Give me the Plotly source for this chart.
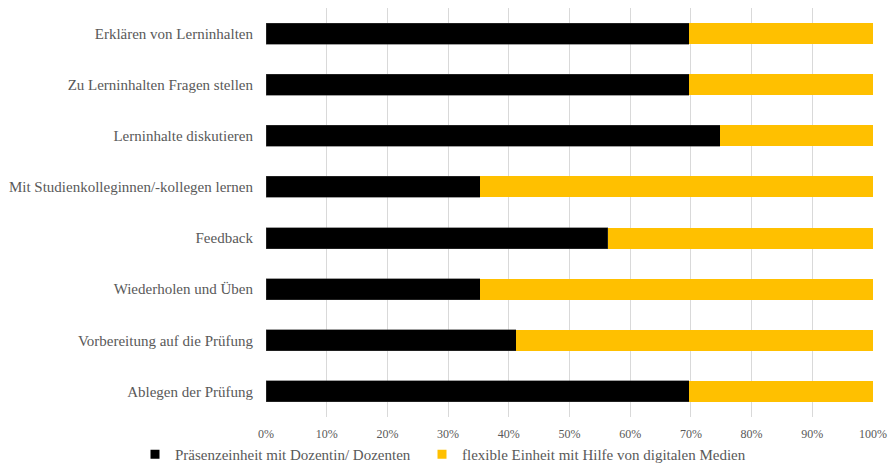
import plotly.graph_objects as go

categories = [
    "Erklären von Lerninhalten",
    "Zu Lerninhalten Fragen stellen",
    "Lerninhalte diskutieren",
    "Mit Studienkolleginnen/-kollegen lernen",
    "Feedback",
    "Wiederholen und Üben",
    "Vorbereitung auf die Prüfung",
    "Ablegen der Prüfung",
]
praesenz = [69.7, 69.7, 74.8, 35.3, 56.3, 35.3, 41.2, 69.7]
flexibel = [round(100 - v, 1) for v in praesenz]

series_names = ["Präsenzeinheit mit Dozentin/ Dozenten",
                "flexible Einheit mit Hilfe von digitalen Medien"]
series_colors = ["#000000", "#FFC000"]
tick_vals = [0, 10, 20, 30, 40, 50, 60, 70, 80, 90, 100]
tick_text = [f"{v}%" for v in tick_vals]

font_family = "Liberation Serif"
text_color = "#595959"

fig = go.Figure()
fig.add_trace(go.Bar(
    y=categories, x=praesenz, orientation="h", name=series_names[0],
    marker=dict(color=series_colors[0], line=dict(color="#404040", width=0.5)),
    showlegend=False,
))
fig.add_trace(go.Bar(
    y=categories, x=flexibel, orientation="h", name=series_names[1],
    marker=dict(color=series_colors[1], line=dict(width=0)),
    showlegend=False,
))
# legend entries with small square swatches, each in its own legend box
for name, col, leg in zip(series_names, series_colors, ["legend", "legend2"]):
    fig.add_trace(go.Scatter(
        x=[None], y=[None], mode="markers", name=name,
        marker=dict(symbol="square", size=9, color=col),
        legend=leg, hoverinfo="skip",
    ))

legend_common = dict(
    orientation="h",
    xref="container", yref="container",
    y=1 - 438 / 466, yanchor="top",
    font=dict(family=font_family, size=15, color=text_color),
    itemwidth=30, bgcolor="rgba(0,0,0,0)",
)

fig.update_layout(
    barmode="stack",
    bargap=0.59,
    width=890, height=466,
    margin=dict(l=266, r=17, t=8, b=49, autoexpand=False),
    paper_bgcolor="white", plot_bgcolor="white",
    font=dict(family=font_family, color=text_color, size=15),
    showlegend=True,
    legend=dict(x=135 / 890, **legend_common),
    legend2=dict(x=422 / 890, **legend_common),
    xaxis=dict(
        range=[0, 100], tickvals=tick_vals, ticktext=tick_text,
        showgrid=True, gridcolor="#d9d9d9", gridwidth=1,
        zeroline=False, showline=False, automargin=False,
        tickfont=dict(family=font_family, size=12, color=text_color),
        ticklabelstandoff=8,
        fixedrange=True,
    ),
    yaxis=dict(
        categoryorder="array", categoryarray=categories[::-1],
        showgrid=False, zeroline=False, automargin=False,
        showline=False, ticks="", ticklen=0,
        tickfont=dict(family=font_family, size=15, color=text_color),
        ticklabelstandoff=12,
    ),
)

fig.write_html("out.html")
